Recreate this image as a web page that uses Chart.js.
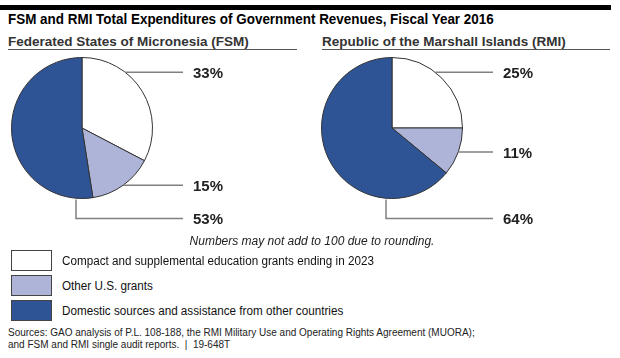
<!DOCTYPE html>
<html>
<head>
<meta charset="utf-8">
<script src="https://cdn.jsdelivr.net/npm/chart.js@4.4.1/dist/chart.umd.min.js"></script>
<style>
  body { margin: 0; background: #fff; font-family: "Liberation Sans", Arial, sans-serif; color: #111; }
  #page { position: relative; width: 620px; height: 358px; overflow: hidden; }
  .topbar { position: absolute; left: 0; top: 5px; width: 611px; height: 5px; background: #000; }
  .title { position: absolute; left: 8px; top: 11px; font-size: 14px; font-weight: bold; color: #000; white-space: nowrap;
           transform: scaleX(0.96); transform-origin: left center; }
  .sub { position: absolute; top: 34px; font-size: 13.5px; font-weight: bold; color: #333; white-space: nowrap;
         border-bottom: 1px solid #555; padding-bottom: 0; }
  .pie { position: absolute; top: 50px; width: 300px; height: 190px; }
  .note { position: absolute; left: 2px; width: 620px; top: 234px; text-align: center; font-style: italic; font-size: 12px; color: #222; }
  .legend { position: absolute; left: 11px; top: 250px; }
  .legend .row { display: flex; align-items: center; height: 21px; margin-bottom: 4px; }
  .legend .box { width: 39px; height: 19px; border: 1px solid #444; margin-right: 10px; flex: none; }
  .legend .lbl { font-size: 12.5px; color: #111; white-space: nowrap; transform: scaleX(0.935); transform-origin: left center; }
  .sources { position: absolute; left: 8px; top: 327px; font-size: 10px; line-height: 11.5px; color: #222; white-space: nowrap; }
</style>
</head>
<body>
<div id="page">
  <div class="topbar"></div>
  <div class="title">FSM and RMI Total Expenditures of Government Revenues, Fiscal Year 2016</div>
  <div class="sub" style="left:8px; width:289px;">Federated States of Micronesia (FSM)</div>
  <div class="sub" style="left:322px; width:288px;">Republic of the Marshall Islands (RMI)</div>
  <div class="pie" style="left:0;"><canvas id="fsmChart"></canvas></div>
  <div class="pie" style="left:310px;"><canvas id="rmiChart"></canvas></div>
  <div class="note">Numbers may not add to 100 due to rounding.</div>
  <div class="legend" id="legend"></div>
  <div class="sources">Sources: GAO analysis of P.L. 108-188, the RMI Military Use and Operating Rights Agreement (MUORA);<br>and FSM and RMI single audit reports.&nbsp; |&nbsp; 19-648T</div>
</div>

<script>
// ======================================
// Data
// ======================================
const segments = [
    'Compact and supplemental education grants ending in 2023',
    'Other U.S. grants',
    'Domestic sources and assistance from other countries'
];
const fsmShares = [33, 15, 53];
const rmiShares = [25, 11, 64];

const segmentColors = ['#FFFFFF', '#AEB3D8', '#2F5496'];

// ======================================
// Leader lines + percent labels
// ======================================
const leaderPlugin = {
    id: 'leaders',
    afterDatasetsDraw(chart) {
        const ctx = chart.ctx;
        const arcs = chart.getDatasetMeta(0).data;
        const values = chart.data.datasets[0].data;
        const cx = arcs[0].x, cy = arcs[0].y, r = arcs[0].outerRadius;
        const lineEnd = cx + 101;
        const textX = cx + 111;

        ctx.save();
        ctx.strokeStyle = '#808080';
        ctx.lineWidth = 1.5;
        ctx.fillStyle = '#222';
        ctx.font = 'bold 15px "Liberation Sans", Arial, sans-serif';
        ctx.textBaseline = 'middle';
        ctx.textAlign = 'left';

        arcs.forEach((arc, i) => {
            let y;
            ctx.beginPath();
            if (i < arcs.length - 1) {
                const mid = (arc.startAngle + arc.endAngle) / 2;
                // first label sits up near the top-right of the pie
                const a = i === 0 ? Math.min(mid, -0.29 * Math.PI) : mid;
                const px = cx + r * Math.cos(a);
                y = cy + r * Math.sin(a);
                ctx.moveTo(px, y);
                ctx.lineTo(lineEnd, y);
            } else {
                const bx = cx - 6;
                y = cy + r + 20;
                ctx.moveTo(bx, cy + r + 1);
                ctx.lineTo(bx, y);
                ctx.lineTo(lineEnd, y);
            }
            ctx.stroke();
            ctx.fillText(values[i] + '%', textX, y + 1.5);
        });
        ctx.restore();
    }
};

function createPie(id, shares) {
    const ctx = document.getElementById(id);
    if (!ctx) return;

    new Chart(ctx, {
        type: 'pie',
        data: {
            labels: segments,
            datasets: [{
                data: shares,
                backgroundColor: segmentColors,
                borderColor: '#333',
                borderWidth: 1
            }]
        },
        options: {
            responsive: true,
            maintainAspectRatio: false,
            animation: false,
            layout: {
                padding: { left: 11, top: 7, right: 147, bottom: 41 }
            },
            plugins: {
                legend: { display: false },
                tooltip: { enabled: false },
                title: { display: false }
            }
        },
        plugins: [leaderPlugin]
    });
}

// ======================================
// Legend
// ======================================
function buildLegend() {
    const el = document.getElementById('legend');
    segments.forEach((name, i) => {
        const row = document.createElement('div');
        row.className = 'row';
        const box = document.createElement('div');
        box.className = 'box';
        box.style.background = segmentColors[i];
        const lbl = document.createElement('div');
        lbl.className = 'lbl';
        lbl.textContent = name;
        row.appendChild(box);
        row.appendChild(lbl);
        el.appendChild(row);
    });
}

buildLegend();
createPie('fsmChart', fsmShares);
createPie('rmiChart', rmiShares);
</script>
</body>
</html>
